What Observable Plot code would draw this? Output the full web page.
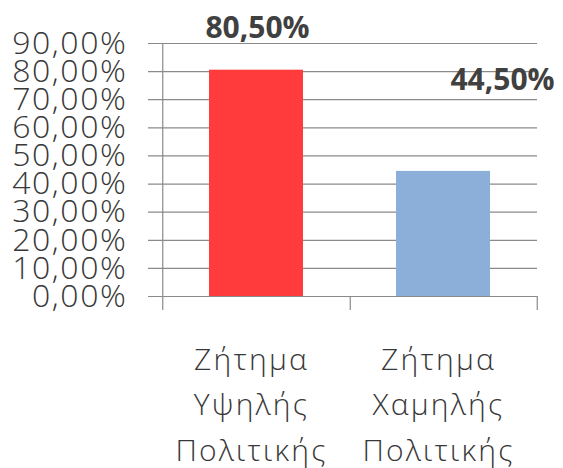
<!DOCTYPE html>
<html>
<head>
<meta charset="utf-8">
<script src="https://cdn.jsdelivr.net/npm/d3@7"></script>
<script src="https://cdn.jsdelivr.net/npm/@observablehq/plot@0.6"></script>
<style>
  html, body { margin: 0; padding: 0; background: #fff; }
  #chart svg { display: block; }
  #chart svg text tspan { letter-spacing: 2.2px; }
  #chart svg g[aria-label="y-axis tick label"] text { letter-spacing: 1.6px; }
</style>
</head>
<body>
<div id="chart"></div>
<script>
const categories = ["Ζήτημα Υψηλής Πολιτικής", "Ζήτημα Χαμηλής Πολιτικής"];
const categoryLines = ["Ζήτημα\nΥψηλής\nΠολιτικής", "Ζήτημα\nΧαμηλής\nΠολιτικής"];
const values = [80.5, 44.5];
const valueLabels = ["80,50%", "44,50%"];
const barColors = ["#FF3B3B", "#8BAFD9"];
const yTicks = [0, 10, 20, 30, 40, 50, 60, 70, 80, 90];

const data = categories.map((c, i) => ({
  category: c, lines: categoryLines[i], value: values[i], label: valueLabels[i], color: barColors[i]
}));

const fmt = d => d.toFixed(2).replace(".", ",") + "%";
const halfStep = 93.75;

const chart = Plot.plot({
  width: 563,
  height: 468,
  marginLeft: 162,
  marginRight: 26,
  marginTop: 43,
  marginBottom: 172,
  style: { fontFamily: "'Open Sans', sans-serif", background: "#fff", overflow: "visible" },
  x: { domain: categories, paddingInner: 0.5, paddingOuter: 0.25, axis: null },
  y: { domain: [0, 90], axis: null },
  marks: [
    Plot.ruleY(yTicks, { y: d => d, stroke: "#8a8a8a", strokeWidth: 1.2, insetLeft: -14 }),
    Plot.barY(data, { x: "category", y: "value", fill: "color" }),
    Plot.ruleX([categories[0]], { x: d => d, dx: -halfStep, y1: 90, y2: 0, stroke: "#8a8a8a", strokeWidth: 1.2, insetBottom: -14 }),
    Plot.ruleX(categories, { x: d => d, dx: halfStep, y1: 0, y2: 0, stroke: "#8a8a8a", strokeWidth: 1.2, insetBottom: -14 }),
    Plot.axisY(yTicks, {
      tickSize: 0, tickPadding: 35, tickFormat: fmt, label: null,
      fontSize: 32, fontWeight: 300, fill: "#383838", stroke: null, anchor: "left"
    }),
    Plot.text(data, {
      x: "category", text: "lines", frameAnchor: "bottom", lineAnchor: "top",
      dy: 41, dx: -5, lineHeight: 1.52, fontSize: 30, fontWeight: 300, fill: "#383838"
    }),
    Plot.text(data.slice(0, 1), {
      x: "category", y: "value", text: "label", dy: -42, dx: 1,
      fontSize: 30, fontWeight: "bold", fill: "#404040"
    }),
    Plot.text(data.slice(1), {
      x: "category", y: "value", text: "label", dy: -91, dx: 59,
      fontSize: 30, fontWeight: "bold", fill: "#404040"
    })
  ]
});
document.getElementById("chart").appendChild(chart);
</script>
</body>
</html>
